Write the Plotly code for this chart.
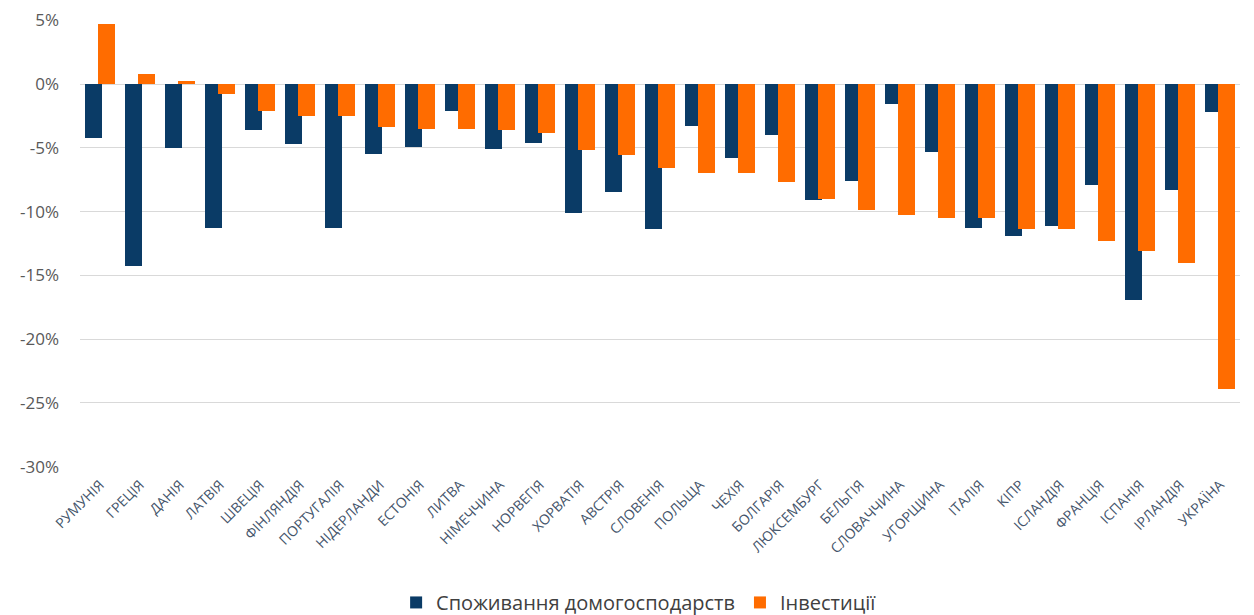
import plotly.graph_objects as go

countries = ["РУМУНІЯ", "ГРЕЦІЯ", "ДАНІЯ", "ЛАТВІЯ", "ШВЕЦІЯ", "ФІНЛЯНДІЯ", "ПОРТУГАЛІЯ",
             "НІДЕРЛАНДИ", "ЕСТОНІЯ", "ЛИТВА", "НІМЕЧЧИНА", "НОРВЕГІЯ", "ХОРВАТІЯ", "АВСТРІЯ",
             "СЛОВЕНІЯ", "ПОЛЬЩА", "ЧЕХІЯ", "БОЛГАРІЯ", "ЛЮКСЕМБУРГ", "БЕЛЬГІЯ", "СЛОВАЧЧИНА",
             "УГОРЩИНА", "ІТАЛІЯ", "КІПР", "ІСЛАНДІЯ", "ФРАНЦІЯ", "ІСПАНІЯ", "ІРЛАНДІЯ", "УКРАЇНА"]

consumption = [-4.2, -14.3, -5.0, -11.3, -3.6, -4.7, -11.3, -5.5, -4.9, -2.1, -5.1, -4.6,
               -10.1, -8.5, -11.4, -3.3, -5.8, -4.0, -9.1, -7.6, -1.6, -5.3, -11.3, -11.9,
               -11.1, -7.9, -16.9, -8.3, -2.2]

investment = [4.7, 0.8, 0.2, -0.8, -2.1, -2.5, -2.5, -3.4, -3.5, -3.5, -3.6, -3.8,
              -5.2, -5.6, -6.6, -7.0, -7.0, -7.7, -9.0, -9.9, -10.3, -10.5, -10.5, -11.4,
              -11.4, -12.3, -13.1, -14.0, -23.9]

y_ticks = [5, 0, -5, -10, -15, -20, -25, -30]
y_labels = ["5%", "0%", "-5%", "-10%", "-15%", "-20%", "-25%", "-30%"]

series_names = ["Споживання домогосподарств", "Інвестиції"]

BLUE = "#0A3B66"
ORANGE = "#FF6C00"

fig = go.Figure()
fig.add_trace(go.Bar(
    x=countries, y=consumption, name=series_names[0],
    marker=dict(color=BLUE, line=dict(width=0)),
    offset=-0.38, width=0.42,
))
fig.add_trace(go.Bar(
    x=countries, y=investment, name=series_names[1],
    marker=dict(color=ORANGE, line=dict(width=0)),
    offset=-0.05, width=0.43,
))

fig.update_layout(
    width=1246, height=607,
    margin=dict(l=72, r=14, t=12, b=148, autoexpand=False),
    paper_bgcolor="white", plot_bgcolor="white",
    font=dict(family="Open Sans", color="#595959"),
    showlegend=True,
    legend=dict(orientation="h", x=0.482, xanchor="center", y=-0.303, yanchor="middle",
                font=dict(size=20, color="#404040"), itemwidth=30, traceorder="normal"),
    barmode="overlay",
    bargap=0,
)
fig.update_xaxes(
    type="category", tickangle=-45, tickfont=dict(size=14, color="#44546A"),
    showgrid=False, showline=False, ticks="", range=[-0.5, len(countries) - 0.5],
    automargin=False, ticklabelstandoff=6,
)
fig.update_yaxes(
    range=[-30.02, 5.02], tickvals=y_ticks, ticktext=y_labels,
    tickfont=dict(size=17, color="#595959"),
    showgrid=True, gridcolor="#D9D9D9", gridwidth=1,
    zeroline=False, showline=False, ticks="", ticklabelstandoff=20,
    automargin=False, ticklabeloverflow="allow",
)

fig.write_html("out.html")
